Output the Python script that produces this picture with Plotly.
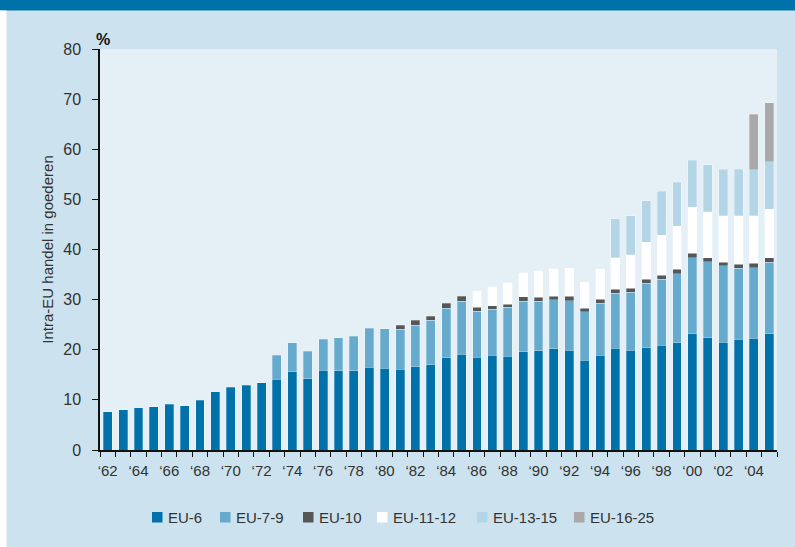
import plotly.graph_objects as go

years = list(range(1962, 2006))
tick_years = list(range(1962, 2006, 2))
tick_labels = ["\u2018" + str(y)[2:] for y in tick_years]

eu6 = [7.6, 8.0, 8.4, 8.6, 9.1, 8.85, 9.9, 11.6, 12.5, 12.9, 13.4,
       14.1, 15.6, 14.2, 15.9, 15.8, 15.8, 16.55, 16.35, 16.15, 16.6,
       17.0, 18.4, 19.1, 18.55, 18.9, 18.75, 19.6, 19.8, 20.2, 19.95,
       17.9, 18.95, 20.3, 19.95, 20.4, 20.9, 21.35, 23.2, 22.4, 21.5,
       22.1, 22.3, 23.15]
eu7_9 = [0]*11 + [4.85, 5.75, 5.55, 6.2, 6.6, 6.9, 7.75, 7.85, 7.95, 8.3,
                  8.9, 9.9, 10.6, 9.15, 9.15, 9.7, 10.1, 9.9, 9.75, 9.85,
                  9.7, 10.35, 11.0, 11.5, 12.85, 13.2, 13.85, 15.2, 15.2, 15.3,
                  14.15, 14.1, 14.3]
eu10 = [0]*19 + [0.8, 1.0, 0.8, 1.0, 0.95, 0.75, 0.75, 0.65, 0.9, 0.75,
                 0.7, 0.85, 0.7, 0.8, 0.8, 0.85, 0.85, 0.8, 0.9, 0.9,
                 0.8, 0.7, 0.85, 0.85, 0.95]
eu11_12 = [0]*24 + [3.25, 3.8, 4.3, 4.8, 5.2, 5.55, 5.65, 5.2, 6.0, 6.3,
                    6.7, 7.3, 7.9, 8.5, 9.1, 9.15, 9.25, 9.6, 9.45, 9.6]
eu13_15 = [0]*33 + [7.7, 7.75, 8.3, 8.8, 8.8, 9.45, 9.35, 9.25, 9.3, 9.2, 9.5]
eu16_25 = [0]*42 + [11.1, 11.8]

series_names = ["EU-6", "EU-7-9", "EU-10", "EU-11-12", "EU-13-15", "EU-16-25"]
series_values = [eu6, eu7_9, eu10, eu11_12, eu13_15, eu16_25]
series_colors = ["#0071a9", "#66aacd", "#565656", "#ffffff", "#b4d5e6", "#a9a9a9"]

W, H = 795, 547
L, R, T, B = 100, 18, 49, 97
pw, ph = W - L - R, H - T - B

def px_x(p):
    return (p - L) / pw

def px_y(p):
    return (H - B - p) / ph

FONT = "Liberation Sans, Arial, sans-serif"

fig = go.Figure()
for name, vals, col in zip(series_names, series_values, series_colors):
    fig.add_trace(go.Bar(
        x=years, y=[v if v > 0 else None for v in vals], name=name,
        marker=dict(color=col, line=dict(color="rgba(255,255,255,0.35)", width=0.8)),
        width=0.58, showlegend=False,
    ))

# legend drawn as swatches + text (positions in px)
legend_sq_x = [152, 220, 303, 377, 477, 574]
shapes = [
    dict(type="rect", xref="paper", yref="paper", x0=px_x(0), x1=px_x(W), y0=px_y(10.5), y1=px_y(0),
         fillcolor="#0072aa", line=dict(width=0), layer="above"),
    dict(type="rect", xref="paper", yref="paper", x0=px_x(0), x1=px_x(6.5), y0=px_y(H), y1=px_y(10.5),
         fillcolor="#ffffff", line=dict(width=0), layer="above"),
]
annotations = [
    dict(text="<b>%</b>", xref="paper", yref="paper", x=px_x(102.5), y=px_y(39),
         xanchor="center", yanchor="middle", showarrow=False,
         font=dict(size=16, family=FONT, color="#111111")),
]
for name, col, sx in zip(series_names, series_colors, legend_sq_x):
    shapes.append(dict(type="rect", xref="paper", yref="paper",
                       x0=px_x(sx), x1=px_x(sx + 10.5), y0=px_y(522.5), y1=px_y(512),
                       fillcolor=col, line=dict(width=0), layer="above"))
    annotations.append(dict(text=name, xref="paper", yref="paper",
                            x=px_x(sx + 13.5), y=px_y(517.5), xanchor="left", yanchor="middle",
                            showarrow=False,
                            font=dict(size=15, family=FONT, color="#333333")))

fig.update_layout(
    barmode="stack",
    width=W, height=H,
    margin=dict(l=L, r=R, t=T, b=B, pad=0, autoexpand=False),
    paper_bgcolor="#cce2ee",
    plot_bgcolor="#e4f0f6",
    font=dict(family=FONT, color="#333333"),
    showlegend=False,
    shapes=shapes,
    annotations=annotations,
)

fig.update_xaxes(
    range=[1961.5, 2005.5],
    tickmode="array", tickvals=tick_years, ticktext=tick_labels,
    ticks="", showgrid=False, zeroline=False, automargin=False,
    showline=True, linecolor="#111111", linewidth=1.5,
    tickfont=dict(size=15, color="#333333"),
    ticklabelstandoff=6,
    minor=dict(tickmode="linear", tick0=1961.5, dtick=1, ticks="outside", ticklen=5,
               tickcolor="#111111", tickwidth=1, showgrid=False),
)
fig.update_yaxes(
    range=[0, 80], tickmode="linear", tick0=0, dtick=10,
    ticks="outside", ticklen=6, tickcolor="#111111", tickwidth=1,
    showgrid=False, zeroline=False, automargin=False,
    showline=True, linecolor="#111111", linewidth=1.5,
    tickfont=dict(size=16, color="#333333"),
    ticklabelstandoff=8,
    title=dict(text="Intra-EU handel in goederen", standoff=6,
               font=dict(size=15, color="#333333")),
)

fig.write_html("out.html",
               config={"displayModeBar": False},
               post_script="document.body.style.margin='0';document.body.style.overflow='hidden';")
